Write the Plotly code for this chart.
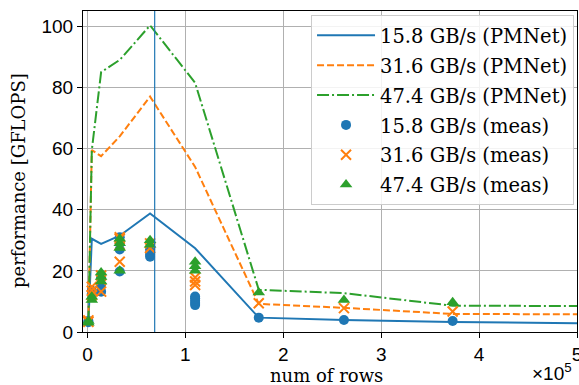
import plotly.graph_objects as go

# ---------------- data ----------------
line_rows = [1000, 4500, 14000, 33000, 64000, 110000, 175000, 262000, 373000, 500000]
pmnet_158 = [3.0, 30.5, 28.8, 31.5, 38.8, 27.4, 4.7, 3.9, 3.3, 2.9]
pmnet_316 = [3.0, 59.5, 57.5, 64.0, 77.0, 54.0, 9.2, 7.9, 5.9, 5.8]
pmnet_474 = [3.0, 59.5, 85.0, 89.0, 100.3, 81.5, 13.8, 12.7, 8.6, 8.5]

meas_rows_158 = [1000, 1000, 4500, 4500, 14000, 14000, 14000, 33000, 33000, 33000, 33000,
                 64000, 64000, 64000, 110000, 110000, 110000, 110000, 110000, 175000, 262000, 373000]
meas_158 = [3.2, 3.6, 12.5, 13.5, 13.2, 15.5, 17.8, 19.8, 27.0, 29.0, 31.0,
            24.6, 25.5, 27.0, 8.8, 9.5, 10.2, 11.0, 11.6, 4.7, 3.9, 3.6]

meas_rows_316 = [1000, 1000, 4500, 4500, 4500, 14000, 14000, 14000, 33000, 33000, 33000, 33000,
                 64000, 64000, 110000, 110000, 110000, 175000, 262000, 373000]
meas_316 = [3.3, 3.8, 12.0, 13.5, 14.8, 13.2, 17.0, 18.5, 23.0, 28.5, 30.5, 31.0,
            27.5, 29.0, 15.4, 16.5, 17.8, 9.4, 7.8, 6.7]

meas_rows_474 = [1000, 1000, 4500, 4500, 14000, 14000, 14000, 33000, 33000, 33000, 33000,
                 64000, 64000, 110000, 110000, 110000, 175000, 262000, 373000]
meas_474 = [3.0, 3.6, 10.5, 11.5, 16.5, 18.0, 19.5, 20.0, 27.5, 29.0, 30.5,
            28.5, 30.0, 20.0, 21.5, 23.0, 12.9, 10.5, 9.7]

peak_rows = 68700
x_tick_vals = [0, 100000, 200000, 300000, 400000, 500000]
x_tick_text = ["0", "1", "2", "3", "4", "5"]
y_tick_vals = [0, 20, 40, 60, 80, 100]

BLUE, ORANGE, GREEN = "#1f77b4", "#ff7f0e", "#2ca02c"
SERIF = "DejaVu Serif"
SANS = "Liberation Sans"

fig = go.Figure()

fig.add_vline(x=peak_rows, line=dict(color=BLUE, width=1.2), layer="above")

fig.add_trace(go.Scatter(x=line_rows, y=pmnet_158, mode="lines", name="15.8 GB/s (PMNet)",
                         legendgroup="a", line=dict(color=BLUE, width=2)))
fig.add_trace(go.Scatter(x=line_rows, y=pmnet_316, mode="lines", name="31.6 GB/s (PMNet)",
                         legendgroup="b", line=dict(color=ORANGE, width=2, dash="7px,3px")))
fig.add_trace(go.Scatter(x=line_rows, y=pmnet_474, mode="lines", name="47.4 GB/s (PMNet)",
                         legendgroup="c", line=dict(color=GREEN, width=2, dash="12px,3px,2px,3px")))

fig.add_trace(go.Scatter(x=meas_rows_158, y=meas_158, mode="markers", name="15.8 GB/s (meas)",
                         legendgroup="d", marker=dict(color=BLUE, size=10, symbol="circle")))
fig.add_trace(go.Scatter(x=meas_rows_316, y=meas_316, mode="markers", name="31.6 GB/s (meas)",
                         legendgroup="e", marker=dict(color=ORANGE, size=10, symbol="x-thin",
                                                      line=dict(color=ORANGE, width=2))))
fig.add_trace(go.Scatter(x=meas_rows_474, y=meas_474, mode="markers", name="47.4 GB/s (meas)",
                         legendgroup="f", marker=dict(color=GREEN, size=11, symbol="triangle-up")))

fig.update_layout(
    width=579, height=385,
    margin=dict(l=83, r=2, t=11, b=53, autoexpand=False),
    paper_bgcolor="white", plot_bgcolor="white",
    showlegend=True,
    legend=dict(x=0.994, y=0.987, xanchor="right", yanchor="top",
                bgcolor="rgba(255,255,255,0.85)", bordercolor="#cccccc", borderwidth=1,
                font=dict(family=SERIF, size=19.5, color="black"),
                tracegroupgap=1.5, itemwidth=58, traceorder="grouped"),
    xaxis=dict(range=[-4500, 500000], tickvals=x_tick_vals, ticktext=x_tick_text,
               ticks="outside", ticklen=5, tickcolor="black", tickwidth=1,
               tickfont=dict(family=SANS, size=19, color="black"), ticklabeloverflow="allow",
               showgrid=True, gridcolor="#b0b0b0", gridwidth=1, automargin=False,
               showline=True, linecolor="black", linewidth=1, mirror=True, zeroline=False),
    yaxis=dict(range=[0, 105], tickvals=y_tick_vals,
               ticks="outside", ticklen=5, tickcolor="black", tickwidth=1,
               tickfont=dict(family=SANS, size=19, color="black"),
               showgrid=True, gridcolor="#b0b0b0", gridwidth=1, automargin=False,
               showline=True, linecolor="black", linewidth=1, mirror=True, zeroline=False),
)

fig.add_annotation(xref="paper", yref="paper", x=0.492, y=-0.137, xanchor="center", yanchor="middle",
                   text="num of rows", showarrow=False,
                   font=dict(family=SERIF, size=18, color="black"))
fig.add_annotation(xref="paper", yref="paper", x=-0.1316, y=0.4735, xanchor="center", yanchor="middle",
                   text="performance [GFLOPS]", showarrow=False, textangle=-90,
                   font=dict(family=SERIF, size=18, color="black"))
fig.add_annotation(xref="paper", yref="paper", x=0.905, y=-0.1246, xanchor="left", yanchor="middle",
                   text="×10<sup>5</sup>", showarrow=False,
                   font=dict(family=SANS, size=19, color="black"))

fig.write_html("out.html", config={"displayModeBar": False},
               post_script="document.body.style.margin='0';")
